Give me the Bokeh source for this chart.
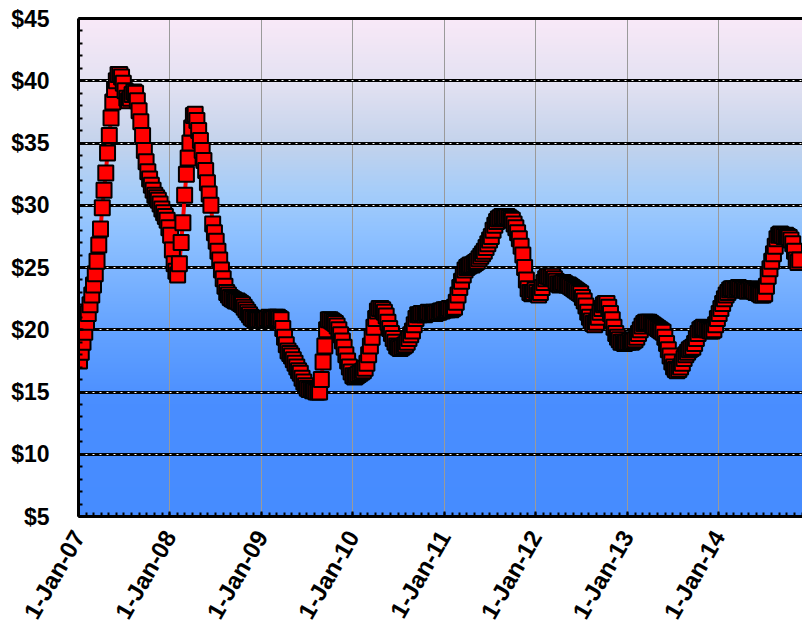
import math
import numpy as np
import pandas as pd
from bokeh.plotting import figure
from bokeh.models import (ColumnDataSource, Range1d, LinearAxis, FixedTicker,
                          SingleIntervalTicker, NumeralTickFormatter,
                          DatetimeTickFormatter, Grid)
from bokeh.embed import file_html
from bokeh.resources import INLINE

# Weekly closing prices (USD), one list per calendar year
price_2007 = [17.5, 18.2, 19.0, 19.8, 20.6, 21.3, 22.0, 22.8, 23.6, 24.5,
              25.5, 26.8, 28.1, 29.8, 31.2, 32.6, 34.2, 35.6, 37.0, 38.3,
              39.3, 40.0, 40.5, 40.5, 40.3, 39.8, 39.2, 38.6, 38.4, 38.6,
              38.9, 39.1, 39.0, 38.4, 37.6, 36.7, 35.6, 34.4, 33.5, 32.7,
              32.1, 31.6, 31.2, 30.8, 30.6, 30.4, 30.1, 29.7, 29.4, 29.1,
              28.8, 28.2]
price_2008 = [27.6, 26.4, 25.3, 24.7, 24.4, 25.3, 27.0, 28.6, 30.8, 32.5,
              33.8, 35.0, 36.2, 37.2, 37.3, 36.8, 36.0, 35.2, 34.4, 33.6,
              32.8, 31.8, 30.9, 30.0, 28.5, 27.8, 27.1, 26.3, 25.6, 24.8,
              24.1, 23.5, 23.0, 22.8, 22.6, 22.5, 22.4, 22.3, 22.3, 22.2,
              22.1, 22.0, 21.8, 21.6, 21.4, 21.2, 21.0, 20.9, 20.8, 20.8,
              20.8, 20.8]
price_2009 = [20.8, 20.9, 20.8, 20.9, 21.0, 20.9, 20.8, 20.9, 21.0, 21.0,
              20.9, 20.8, 20.1, 19.4, 18.8, 18.3, 18.1, 17.9, 17.6, 17.3,
              17.0, 16.7, 16.5, 16.1, 15.8, 15.5, 15.3, 15.2, 15.2, 15.1,
              15.1, 15.0, 15.0, 15.0, 16.0, 17.4, 18.7, 20.0, 20.8, 20.8,
              20.7, 20.6, 20.5, 20.3, 20.0, 19.6, 19.1, 18.6, 18.0, 17.5,
              17.0, 16.6]
price_2010 = [16.3, 16.2, 16.3, 16.4, 16.5, 16.6, 16.7, 16.9, 17.3, 18.0,
              18.7, 19.4, 20.2, 20.9, 21.5, 21.7, 21.7, 21.6, 21.4, 21.1,
              20.6, 20.1, 19.7, 19.3, 19.0, 18.7, 18.6, 18.5, 18.6, 18.7,
              18.8, 19.0, 19.3, 19.6, 19.9, 20.4, 20.9, 21.2, 21.2, 21.3,
              21.3, 21.2, 21.3, 21.4, 21.3, 21.3, 21.4, 21.3, 21.4, 21.4,
              21.5, 21.5, 21.6]
price_2011 = [21.6, 21.6, 21.7, 21.6, 21.7, 21.8, 22.2, 22.8, 23.4, 23.9,
              24.4, 24.8, 25.0, 25.1, 25.2, 25.2, 25.3, 25.4, 25.5, 25.7,
              25.9, 26.1, 26.3, 26.6, 26.9, 27.2, 27.5, 28.0, 28.4, 28.7,
              28.9, 29.0, 29.1, 29.1, 29.0, 29.1, 29.0, 28.9, 28.8, 28.5,
              28.2, 27.8, 27.3, 26.7, 26.0, 25.0, 24.0, 23.3, 23.0, 22.9,
              23.0, 23.2]
price_2012 = [23.0, 22.8, 23.0, 23.4, 23.8, 24.1, 24.3, 24.3, 24.2, 24.3,
              24.1, 23.9, 23.7, 23.6, 23.7, 23.8, 23.7, 23.6, 23.6, 23.5,
              23.4, 23.3, 23.2, 23.1, 23.0, 22.9, 22.6, 22.3, 21.9, 21.4,
              21.0, 20.7, 20.5, 20.4, 20.6, 21.0, 21.4, 21.7, 22.0, 22.1,
              22.1, 21.8, 21.3, 20.8, 20.2, 19.7, 19.4, 19.2, 19.0, 19.0,
              18.9, 19.0]
price_2013 = [19.0, 19.1, 19.0, 19.1, 19.2, 19.4, 19.7, 20.0, 20.3, 20.5,
              20.6, 20.6, 20.6, 20.5, 20.4, 20.3, 20.2, 20.1, 20.0, 19.9,
              19.8, 19.4, 18.9, 18.4, 17.9, 17.4, 17.0, 16.8, 16.7, 16.8,
              17.0, 17.3, 17.7, 18.0, 18.2, 18.4, 18.5, 18.6, 18.9, 19.3,
              19.7, 20.0, 20.1, 20.2, 20.1, 20.0, 20.0, 19.9, 19.9, 20.0,
              20.4, 20.9]
price_2014 = [21.3, 21.7, 22.1, 22.5, 22.8, 23.0, 23.2, 23.3, 23.3, 23.2,
              23.3, 23.4, 23.3, 23.2, 23.3, 23.2, 23.1, 23.2, 23.3, 23.2,
              23.1, 23.0, 23.0, 22.9, 22.8, 22.8, 22.9, 23.5, 24.3, 24.9,
              25.5, 26.1, 26.7, 27.3, 27.6, 27.7, 27.6, 27.5, 27.6, 27.5,
              27.4, 27.2, 26.9, 26.3, 25.6, 25.4, 25.6]

prices = (price_2007 + price_2008 + price_2009 + price_2010 +
          price_2011 + price_2012 + price_2013 + price_2014)
dates = pd.date_range("2007-01-05", periods=len(prices), freq="7D")

y_ticks = [5, 10, 15, 20, 25, 30, 35, 40, 45]
year_ticks = pd.date_range("2007-01-01", "2014-01-01", freq="YS")
month_ticks = pd.date_range("2007-01-01", "2014-12-01", freq="MS")

EPOCH = pd.Timestamp("1970-01-01")


def to_ms(ts):
    return (pd.Timestamp(ts) - EPOCH) / pd.Timedelta(milliseconds=1)


x_start = pd.Timestamp("2007-01-01")
x_end = pd.Timestamp("2014-12-02")

src = ColumnDataSource(dict(date=dates, price=prices))

p = figure(width=802, height=634, x_axis_type="datetime",
           x_range=Range1d(x_start, x_end), y_range=Range1d(5, 45),
           output_backend="svg", toolbar_location=None,
           min_border_left=78, min_border_right=0,
           min_border_top=18, min_border_bottom=118)
p.outline_line_color = None
p.background_fill_color = "white"

# vertical colour wash behind the plot area (pink at the top, blue below)
stops_v = [5, 14, 20, 28, 31, 35, 40, 45]
stops_c = [(70, 140, 255), (74, 142, 255), (100, 163, 255), (145, 195, 255),
           (165, 205, 250), (196, 211, 236), (228, 226, 242), (249, 233, 248)]
rows = 400
yy = np.linspace(5, 45, rows)
img = np.empty((rows, 1), dtype=np.uint32)
view = img.view(dtype=np.uint8).reshape((rows, 1, 4))
for ch in range(3):
    view[:, 0, ch] = np.interp(yy, stops_v, [c[ch] for c in stops_c]).astype(np.uint8)
view[:, 0, 3] = 255
x0 = to_ms(x_start)
p.image_rgba(image=[img], x=x0, y=5, dw=to_ms(x_end) - x0, dh=40, level="image")

# connecting line, then the square markers on top
p.line(x="date", y="price", source=src, line_color="red", line_width=4)
p.scatter(x="date", y="price", source=src, marker="square", size=15,
          fill_color="red", line_color="black", line_width=2)

FONT = "Liberation Sans"

# y axis
yax = p.yaxis[0]
yax.ticker = SingleIntervalTicker(interval=5, num_minor_ticks=5)
yax.formatter = NumeralTickFormatter(format="$0")
yax.major_label_text_font = FONT
yax.major_label_text_font_style = "bold"
yax.major_label_text_font_size = "23px"
yax.major_label_text_color = "black"
yax.major_label_standoff = 29
yax.axis_line_width = 3
yax.axis_line_color = "black"
yax.major_tick_in = 5
yax.major_tick_out = 0
yax.minor_tick_in = 4
yax.minor_tick_out = 0
yax.major_tick_line_width = 2
yax.minor_tick_line_width = 2

# x axis
xax = p.xaxis[0]
xax.ticker = FixedTicker(ticks=[to_ms(t) for t in year_ticks],
                         minor_ticks=[to_ms(t) for t in month_ticks])
fmt = "1-%b-%y"
xax.formatter = DatetimeTickFormatter(
    microseconds=fmt, milliseconds=fmt, seconds=fmt, minsec=fmt, minutes=fmt,
    hourmin=fmt, hours=fmt, days=fmt, months=fmt, years=fmt)
xax.major_label_orientation = math.pi / 3
xax.major_label_text_font = FONT
xax.major_label_text_font_style = "bold"
xax.major_label_text_font_size = "24px"
xax.major_label_text_color = "black"
xax.major_label_standoff = 16
xax.axis_line_width = 3
xax.axis_line_color = "black"
xax.major_tick_in = 5
xax.major_tick_out = 0
xax.minor_tick_in = 4
xax.minor_tick_out = 0
xax.major_tick_line_width = 2
xax.minor_tick_line_width = 2

# plain top border
top = LinearAxis(ticker=FixedTicker(ticks=[]), axis_line_width=3,
                 axis_line_color="black", major_tick_in=0, major_tick_out=0,
                 minor_tick_in=0, minor_tick_out=0,
                 major_label_text_font_size="0px", major_label_standoff=0)
p.add_layout(top, "above")

# grids
p.xgrid.ticker = FixedTicker(ticks=[to_ms(t) for t in year_ticks])
p.xgrid.grid_line_color = "#9a9a9a"
p.xgrid.grid_line_width = 1

grid_ticker = FixedTicker(ticks=y_ticks)
p.ygrid.ticker = grid_ticker
p.ygrid.grid_line_color = "black"
p.ygrid.grid_line_width = 3
p.add_layout(Grid(dimension=1, ticker=grid_ticker, grid_line_color="white",
                  grid_line_width=1, grid_line_dash="2 5"))

open("out.html", "w").write(file_html(p, INLINE))
